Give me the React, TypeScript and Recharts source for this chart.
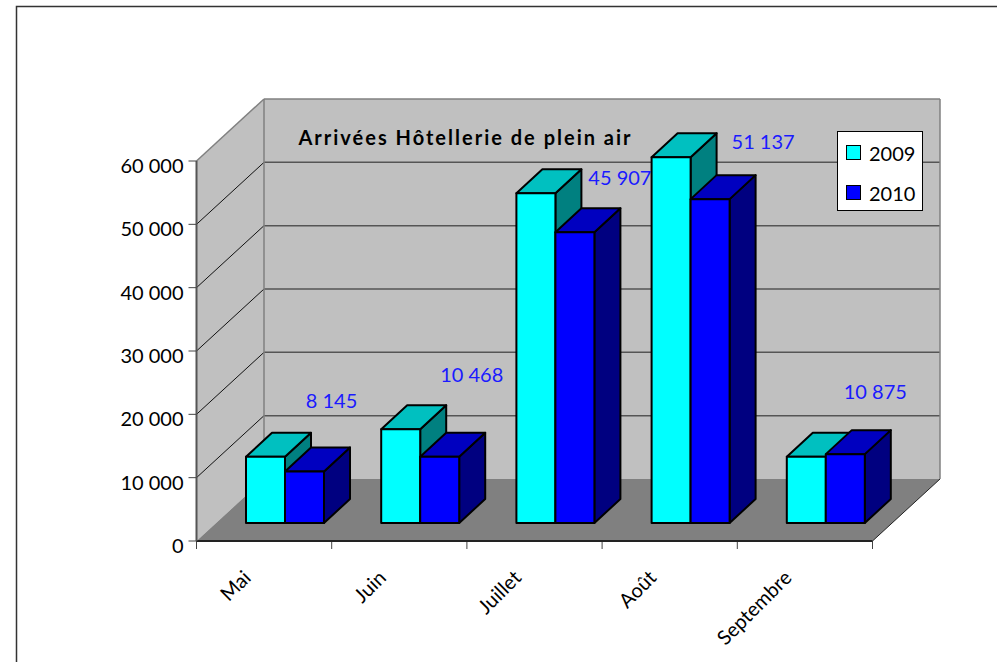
import { Bar, BarChart, Customized, LabelList, Legend, XAxis, YAxis, usePlotArea } from "recharts";

const months = ["Mai", "Juin", "Juillet", "Août", "Septembre"];
const arrivals2009 = [10450, 14800, 52050, 57750, 10450];
const arrivals2010 = [8145, 10468, 45907, 51137, 10875];
const valueTicks = [0, 10000, 20000, 30000, 40000, 50000, 60000];
const seriesNames = ["2009", "2010"];
const titleText = "Arrivées Hôtellerie de plein air";

const data = months.map((month, i) => ({
  month,
  a2009: arrivals2009[i],
  a2010: arrivals2010[i],
}));

const FONT = "Lato, sans-serif";
const MAX = 60000;

// depth of the floor / walls and of the boxes
const WALL_DX = 67.5;
const WALL_DY = -62;
const BOX_DX = 26;
const BOX_DY = -24;
// boxes stand part way into the floor
const SHIFT_X = 20.5;
const SHIFT_Y = -18;

// the free-floating value labels, relative to the top of the 2010 box
const labelOffsets = [
  [27, -70],
  [32, -82],
  [45, -54],
  [53, -57],
  [30, -62],
];

const fmt = (v: number) => String(v).replace(/\B(?=(\d{3})+$)/g, " ");

function Walls() {
  const plot = usePlotArea();
  if (!plot) return null;
  const { x, y, width, height } = plot;
  const bottom = y + height;
  const right = x + width;
  const step = width / months.length;
  return (
    <g>
      <path d="M16.5 670V6.5H1000" fill="none" stroke="#333" strokeWidth={1.5} />
      <polygon
        points={`${x},${y} ${x + WALL_DX},${y + WALL_DY} ${x + WALL_DX},${bottom + WALL_DY} ${x},${bottom}`}
        fill="#c0c0c0"
      />
      <polygon
        points={`${x + WALL_DX},${y + WALL_DY} ${right + WALL_DX},${y + WALL_DY} ${right + WALL_DX},${bottom + WALL_DY} ${x + WALL_DX},${bottom + WALL_DY}`}
        fill="#c0c0c0"
      />
      <polygon
        points={`${x},${bottom} ${right},${bottom} ${right + WALL_DX},${bottom + WALL_DY} ${x + WALL_DX},${bottom + WALL_DY}`}
        fill="#808080"
      />
      {valueTicks.slice(1).map((t) => {
        const ty = bottom - (t / MAX) * height;
        const top = t === MAX;
        return (
          <g key={t}>
            <line
              x1={x}
              y1={ty}
              x2={x + WALL_DX}
              y2={ty + WALL_DY}
              stroke={top ? "#808080" : "#111"}
              strokeWidth={top ? 1.5 : 1}
            />
            <line
              x1={x + WALL_DX}
              y1={ty + WALL_DY}
              x2={right + WALL_DX}
              y2={ty + WALL_DY}
              stroke={top ? "#808080" : "#555"}
              strokeWidth={1.5}
            />
          </g>
        );
      })}
      <line x1={x + WALL_DX} y1={y + WALL_DY} x2={x + WALL_DX} y2={bottom + WALL_DY} stroke="#808080" strokeWidth={1.5} />
      <line x1={right + WALL_DX} y1={y + WALL_DY} x2={right + WALL_DX} y2={bottom + WALL_DY} stroke="#808080" strokeWidth={1.5} />
      <line x1={right} y1={bottom} x2={right + WALL_DX} y2={bottom + WALL_DY} stroke="#222" strokeWidth={1} />
      {months.concat("").map((_, i) => (
        <line
          key={i}
          x1={x + step * i}
          y1={bottom}
          x2={x + step * i}
          y2={bottom + 8}
          stroke="#444"
          strokeWidth={1}
        />
      ))}
      <text
        x={x + 102}
        y={y - 16}
        fontFamily={FONT}
        fontSize={20}
        fontWeight={700}
        letterSpacing={2}
        fill="#000"
      >
        {titleText}
      </text>
    </g>
  );
}

function makeBox(front: string, top: string, side: string) {
  return function Box(props: any) {
    const x = props.x + SHIFT_X;
    const y = props.y + SHIFT_Y;
    const w = props.width;
    const h = props.height;
    return (
      <g stroke="#000" strokeWidth={2} strokeLinejoin="round">
        <polygon
          points={`${x + w},${y} ${x + w + BOX_DX},${y + BOX_DY} ${x + w + BOX_DX},${y + h + BOX_DY} ${x + w},${y + h}`}
          fill={side}
        />
        <polygon
          points={`${x},${y} ${x + BOX_DX},${y + BOX_DY} ${x + w + BOX_DX},${y + BOX_DY} ${x + w},${y}`}
          fill={top}
        />
        <rect x={x} y={y} width={w} height={h} fill={front} />
      </g>
    );
  };
}

const Box2009 = makeBox("#00ffff", "#00c0c0", "#008080");
const Box2010 = makeBox("#0000ff", "#0000c0", "#000080");

function ValueLabel(props: any) {
  const { x, y, width, index, value } = props;
  const [dx, dy] = labelOffsets[index];
  return (
    <text
      x={x + SHIFT_X + width / 2 + dx}
      y={y + SHIFT_Y + dy + 7}
      textAnchor="middle"
      fontFamily={FONT}
      fontSize={20}
      fill="#1a1aff"
    >
      {fmt(value)}
    </text>
  );
}

function MonthTick(props: any) {
  const { x, y, payload } = props;
  const ax = x - 12;
  const ay = y + 30;
  return (
    <text
      x={ax}
      y={ay}
      transform={`rotate(-45 ${ax} ${ay})`}
      textAnchor="end"
      fontFamily={FONT}
      fontSize={20}
      fill="#000"
    >
      {payload.value}
    </text>
  );
}

function LegendBox() {
  const swatches = ["#00ffff", "#0000ff"];
  return (
    <div
      style={{
        width: 84,
        height: 78,
        background: "#fff",
        border: "1px solid #000",
        fontFamily: FONT,
        fontSize: 20,
        color: "#000",
      }}
    >
      {seriesNames.map((name, i) => (
        <div key={name} style={{ position: "absolute", left: 9, top: 13 + i * 40, height: 16, display: "flex", alignItems: "center" }}>
          <span style={{ width: 13, height: 13, background: swatches[i], border: "1.5px solid #000", marginRight: 8, display: "inline-block" }} />
          <span style={{ position: "relative", top: 1 }}>{name}</span>
        </div>
      ))}
    </div>
  );
}

export default function App() {
  return (
    <div style={{ position: "absolute", left: 0, top: 0, width: 997, height: 662, overflow: "hidden" }}>
      <BarChart
        width={997}
        height={662}
        data={data}
        barGap={0}
        barSize={39}
        margin={{ top: 161, right: 124.5, bottom: 51, left: 136.5 }}
      >
        <Customized component={Walls} />
        <XAxis
          dataKey="month"
          height={70}
          interval={0}
          tick={<MonthTick />}
          tickLine={false}
          axisLine={{ stroke: "#222", strokeWidth: 2 }}
        />
        <YAxis
          width={60}
          domain={[0, MAX]}
          ticks={valueTicks}
          tickFormatter={fmt}
          tick={{ fontFamily: FONT, fontSize: 20, fill: "#000", dy: 5 }}
          tickSize={8}
          tickMargin={5}
          tickLine={{ stroke: "#444" }}
          axisLine={{ stroke: "#555", strokeWidth: 2 }}
        />
        <Bar dataKey="a2009" name="2009" shape={Box2009} isAnimationActive={false} />
        <Bar dataKey="a2010" name="2010" shape={Box2010} isAnimationActive={false}>
          <LabelList dataKey="a2010" content={ValueLabel} />
        </Bar>
        <Legend
          layout="vertical"
          align="center"
          verticalAlign="middle"
          content={LegendBox}
          wrapperStyle={{ left: 837, top: 131, width: 86, height: 80 }}
        />
      </BarChart>
    </div>
  );
}
